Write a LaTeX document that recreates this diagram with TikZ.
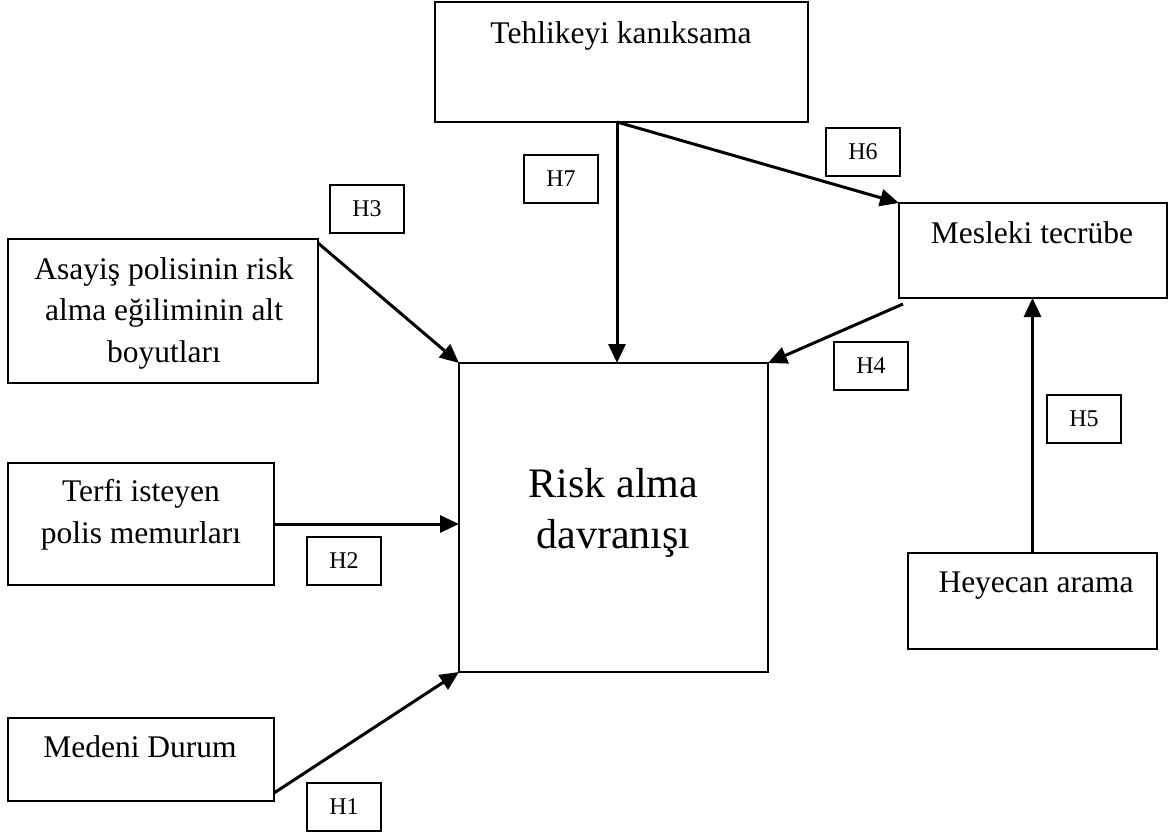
\documentclass[tikz,border=0pt]{standalone}
\usepackage{fontspec}
\setmainfont{Liberation Serif}
\usetikzlibrary{arrows.meta}
\begin{document}
\begin{tikzpicture}[x=1pt,y=-1pt,
  box/.style={draw, line width=2pt, inner sep=0pt, outer sep=0pt, anchor=north west},
  hbox/.style={draw, line width=2pt, inner sep=0pt, outer sep=0pt, anchor=north west,
    minimum width=74pt, minimum height=48pt, font=\fontsize{24}{28}\selectfont},
  txt/.style={anchor=base, align=center, inner sep=0pt, font=\fontsize{31.5}{41.5}\selectfont},
  big/.style={anchor=base, align=center, inner sep=0pt, font=\fontsize{42}{51}\selectfont},
  arr/.style={line width=3pt, -{Triangle[length=19pt,width=17pt]}}]
\useasboundingbox (0,0) rectangle (1173,836);
% main boxes
\node[box, minimum width=373pt, minimum height=120pt] (teh) at (435,2) {};
\node[box, minimum width=268pt, minimum height=95pt] (mes) at (899,203) {};
\node[box, minimum width=310pt, minimum height=144pt] (asa) at (8,239) {};
\node[box, minimum width=266pt, minimum height=122pt] (ter) at (8,463) {};
\node[box, minimum width=266pt, minimum height=83pt] (med) at (8,718) {};
\node[box, minimum width=309pt, minimum height=309pt] (risk) at (459,363) {};
\node[box, minimum width=249pt, minimum height=96pt] (hey) at (908,553) {};
% texts (base = baseline of the last line)
\node[txt] (tteh) at (621,43) {Tehlikeyi kanıksama};
\node[txt] (tmes) at (1032,243) {Mesleki tecrübe};
\node[txt] (tasa) at (164,362) {Asayiş polisinin risk\\alma eğiliminin alt\\boyutları};
\node[txt] (tter) at (141,543) {Terfi isteyen\\polis memurları};
\node[txt] (tmed) at (140,757) {Medeni Durum};
\node[big] (trisk) at (613.5,548) {Risk alma\\davranışı};
\node[txt] (they) at (1036,592) {Heyecan arama};
% hypothesis labels
\node[hbox] (h3) at (330,185) {H3};
\node[hbox] (h7) at (524,155) {H7};
\node[hbox] (h6) at (826,128) {H6};
\node[hbox] (h4) at (834,342) {H4};
\node[hbox] (h5) at (1047,395) {H5};
\node[hbox] (h2) at (307,537) {H2};
\node[hbox] (h1) at (307,783) {H1};
% connectors
\coordinate (tehout) at ([xshift=-4.5pt]teh.south);
\draw[arr] (tehout) -- (tehout |- risk.north);
\draw[arr] (tehout) -- (mes.north west);
\draw[arr] ([yshift=-4pt]asa.north east) -- (risk.north west);
\draw[arr] ([xshift=4pt,yshift=-6pt]mes.south west) -- (risk.north east);
\draw[arr] (ter.east) -- (risk.west |- ter.east);
\draw[arr] ([yshift=8pt]med.south east) -- (risk.south west);
\draw[arr] (hey.north) -- (hey.north |- mes.south);
\end{tikzpicture}
\end{document}
